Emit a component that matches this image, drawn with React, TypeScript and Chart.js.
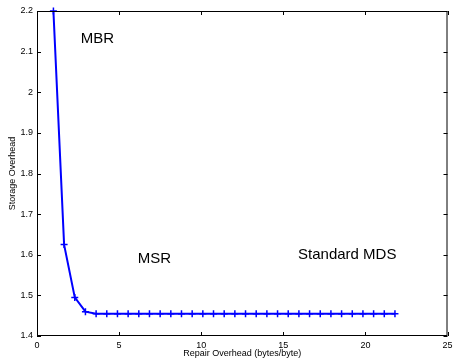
import React, { useEffect, useRef } from "react";
import { Chart, registerables } from "chart.js";

Chart.register(...registerables);

const repairOverhead = [
  1.0, 1.65, 2.3, 2.95, 3.6, 4.25, 4.9, 5.55, 6.2, 6.85, 7.5, 8.15, 8.8, 9.45, 10.1, 10.75,
  11.4, 12.05, 12.7, 13.35, 14.0, 14.65, 15.3, 15.95, 16.6, 17.25, 17.9, 18.55, 19.2, 19.85,
  20.5, 21.15, 21.8,
];
const storageOverhead = [
  2.2, 1.625, 1.495, 1.46, 1.455, 1.455, 1.455, 1.455, 1.455, 1.455, 1.455, 1.455, 1.455,
  1.455, 1.455, 1.455, 1.455, 1.455, 1.455, 1.455, 1.455, 1.455, 1.455, 1.455, 1.455, 1.455,
  1.455, 1.455, 1.455, 1.455, 1.455, 1.455, 1.455,
];
const annotationTexts = ["MBR", "MSR", "Standard MDS"];
const annotationX = [2.67, 6.13, 15.9];
const annotationY = [2.121, 1.58, 1.59];

const FONT = "'Liberation Sans', Arial, Helvetica, sans-serif";

export default function App() {
  const ref = useRef<HTMLCanvasElement | null>(null);

  useEffect(() => {
    if (!ref.current) return;
    const framePlugin = {
      id: "frame",
      afterDraw(chart: any) {
        const { ctx, chartArea: a, scales } = chart;
        ctx.save();
        ctx.strokeStyle = "#000";
        ctx.lineWidth = 1;
        ctx.strokeRect(a.left + 0.5, a.top + 0.5, a.right - a.left - 1, a.bottom - a.top - 1);
        const len = 4;
        ctx.beginPath();
        scales.x.ticks.forEach((t: any) => {
          const px = Math.round(scales.x.getPixelForValue(t.value)) + 0.5;
          ctx.moveTo(px, a.bottom);
          ctx.lineTo(px, a.bottom - len);
          ctx.moveTo(px, a.top);
          ctx.lineTo(px, a.top + len);
        });
        scales.y.ticks.forEach((t: any) => {
          const py = Math.round(scales.y.getPixelForValue(t.value)) + 0.5;
          ctx.moveTo(a.left, py);
          ctx.lineTo(a.left + len, py);
          ctx.moveTo(a.right, py);
          ctx.lineTo(a.right - len, py);
        });
        ctx.stroke();
        ctx.fillStyle = "#000";
        ctx.font = `15px ${FONT}`;
        ctx.textBaseline = "alphabetic";
        ctx.textAlign = "left";
        annotationTexts.forEach((txt, i) => {
          ctx.fillText(
            txt,
            scales.x.getPixelForValue(annotationX[i]),
            scales.y.getPixelForValue(annotationY[i])
          );
        });
        ctx.restore();
      },
    };

    const chart = new Chart(ref.current, {
      type: "line",
      data: {
        datasets: [
          {
            data: repairOverhead.map((x, i) => ({ x, y: storageOverhead[i] })),
            borderColor: "#0000ff",
            backgroundColor: "#0000ff",
            borderWidth: 2,
            pointStyle: "cross",
            pointRadius: 3.5,
            pointBorderWidth: 1.5,
            pointBorderColor: "#0000ff",
            tension: 0,
            clip: false as any,
          },
        ],
      },
      options: {
        animation: false,
        responsive: true,
        maintainAspectRatio: false,
        layout: { padding: { top: 11, right: 4, left: 0, bottom: 0 } },
        plugins: { legend: { display: false }, tooltip: { enabled: false } },
        scales: {
          x: {
            type: "linear",
            min: 0,
            max: 25,
            border: { display: false },
            grid: { display: false, drawTicks: false },
            ticks: {
              stepSize: 5,
              padding: 4,
              color: "#000",
              font: { size: 9, family: FONT },
              maxRotation: 0,
            },
            title: {
              display: true,
              text: "Repair Overhead (bytes/byte)",
              color: "#000",
              font: { size: 9, family: FONT },
              padding: { top: 0, bottom: 0 },
            },
            afterFit: (s: any) => {
              s.height = 23;
              s.paddingRight = 0;
              s.paddingLeft = 0;
            },
          },
          y: {
            type: "linear",
            min: 1.4,
            max: 2.2,
            border: { display: false },
            grid: { display: false, drawTicks: false },
            ticks: {
              stepSize: 0.1,
              padding: 4,
              color: "#000",
              font: { size: 9, family: FONT },
              callback: (v: any) => String(Number(Number(v).toFixed(1))),
            },
            title: {
              display: true,
              text: "Storage Overhead",
              color: "#000",
              font: { size: 9, family: FONT },
              padding: { top: 7, bottom: 0 },
            },
            afterFit: (s: any) => {
              s.width = 37;
              s.paddingTop = 0;
              s.paddingBottom = 0;
            },
          },
        },
      },
      plugins: [framePlugin],
    });
    return () => chart.destroy();
  }, []);

  return (
    <div style={{ position: "fixed", left: 0, top: 0, width: 453, height: 359, background: "#fff" }}>
      <canvas ref={ref} />
    </div>
  );
}
